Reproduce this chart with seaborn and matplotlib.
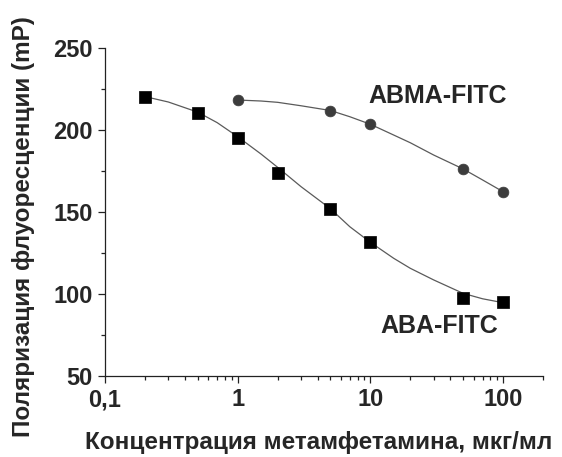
import matplotlib
matplotlib.use("Agg")
import matplotlib.pyplot as plt
import matplotlib.ticker as mticker
import seaborn as sns
import pandas as pd

# measured points
aba_x = [0.2, 0.5, 1, 2, 5, 10, 50, 100]
aba_y = [220.4, 210.5, 195.4, 174.0, 151.7, 131.5, 97.6, 94.8]
abma_x = [1, 5, 10, 50, 100]
abma_y = [218.4, 212.0, 203.6, 176.3, 162.0]

# fitted curves
aba_fit_x = [0.2, 0.3, 0.5, 0.7, 1, 1.5, 2, 3, 5, 7, 10, 15, 20, 30, 50, 70, 100]
aba_fit_y = [220.5, 217.2, 211.0, 204.6, 196.0, 185.4, 177.3, 165.5, 152.0, 141.0,
             131.5, 121.7, 115.6, 108.5, 100.3, 97.0, 94.6]
abma_fit_x = [1, 1.5, 2, 3, 5, 7, 10, 15, 20, 30, 50, 70, 100]
abma_fit_y = [218.4, 217.8, 217.0, 214.9, 212.0, 208.2, 203.6, 197.0, 192.3, 184.8,
              176.3, 169.6, 162.4]

x_ticks = [0.1, 1, 10, 100]
x_tick_labels = ["0,1", "1", "10", "100"]
y_ticks = [50, 100, 150, 200, 250]
y_tick_labels = ["50", "100", "150", "200", "250"]

x_label = "Концентрация метамфетамина, мкг/мл"
y_label = "Поляризация флуоресценции (mP)"
series_labels = ["ABA-FITC", "ABMA-FITC"]

sns.set_style("ticks")
plt.rcParams["font.family"] = ["Liberation Sans", "DejaVu Sans"]
plt.rcParams["font.weight"] = "bold"

fig = plt.figure(figsize=(5.62, 4.57), dpi=100)
ax = fig.add_axes([105 / 562, 1 - 375.7 / 457, 438 / 562, 327.4 / 457])

line_col = "#5a5a5a"
sns.lineplot(x=aba_fit_x, y=aba_fit_y, ax=ax, color=line_col, lw=0.9, estimator=None, sort=False)
sns.lineplot(x=abma_fit_x, y=abma_fit_y, ax=ax, color=line_col, lw=0.9, estimator=None, sort=False)
sns.scatterplot(x=aba_x, y=aba_y, ax=ax, marker="s", s=64, color="black", edgecolor="black",
                linewidth=0.5, zorder=5)
sns.scatterplot(x=abma_x, y=abma_y, ax=ax, marker="o", s=60, color="#3c3c3c", edgecolor="#3c3c3c",
                linewidth=0.5, zorder=5)

ax.set_xscale("log")
ax.set_xlim(0.1, 200)
ax.set_ylim(50, 250)
ax.xaxis.set_major_locator(mticker.FixedLocator(x_ticks))
ax.xaxis.set_major_formatter(mticker.FixedFormatter(x_tick_labels))
ax.xaxis.set_minor_locator(mticker.LogLocator(base=10, subs=range(2, 10), numticks=20))
ax.xaxis.set_minor_formatter(mticker.NullFormatter())
ax.yaxis.set_major_locator(mticker.FixedLocator(y_ticks))
ax.yaxis.set_major_formatter(mticker.FixedFormatter(y_tick_labels))
ax.yaxis.set_minor_locator(mticker.MultipleLocator(25))

for s in ["top", "right"]:
    ax.spines[s].set_visible(False)
for s in ["left", "bottom"]:
    ax.spines[s].set_color("#222222")
    ax.spines[s].set_linewidth(0.9)

ax.tick_params(which="major", direction="out", length=5, width=0.9, color="#222222",
               labelsize=17, pad=4)
ax.tick_params(which="minor", direction="out", length=3, width=0.9, color="#222222")
for lab in ax.get_xticklabels() + ax.get_yticklabels():
    lab.set_fontweight("bold")

ax.set_xlabel("")
ax.set_ylabel("")

ax.text(11.8, 76.1, series_labels[0], fontsize=18, fontweight="bold", ha="left", va="baseline")
ax.text(9.6, 216.6, series_labels[1], fontsize=18, fontweight="bold", ha="left", va="baseline")

fig.text(318.5 / 562, 1 - 449 / 457, x_label, fontsize=17.5, fontweight="bold",
         ha="center", va="baseline")
fig.text(24 / 562, 1 - 227 / 457, y_label, fontsize=17.5, fontweight="bold",
         ha="center", va="center", rotation=90)

fig.savefig("out.png", dpi=100)
